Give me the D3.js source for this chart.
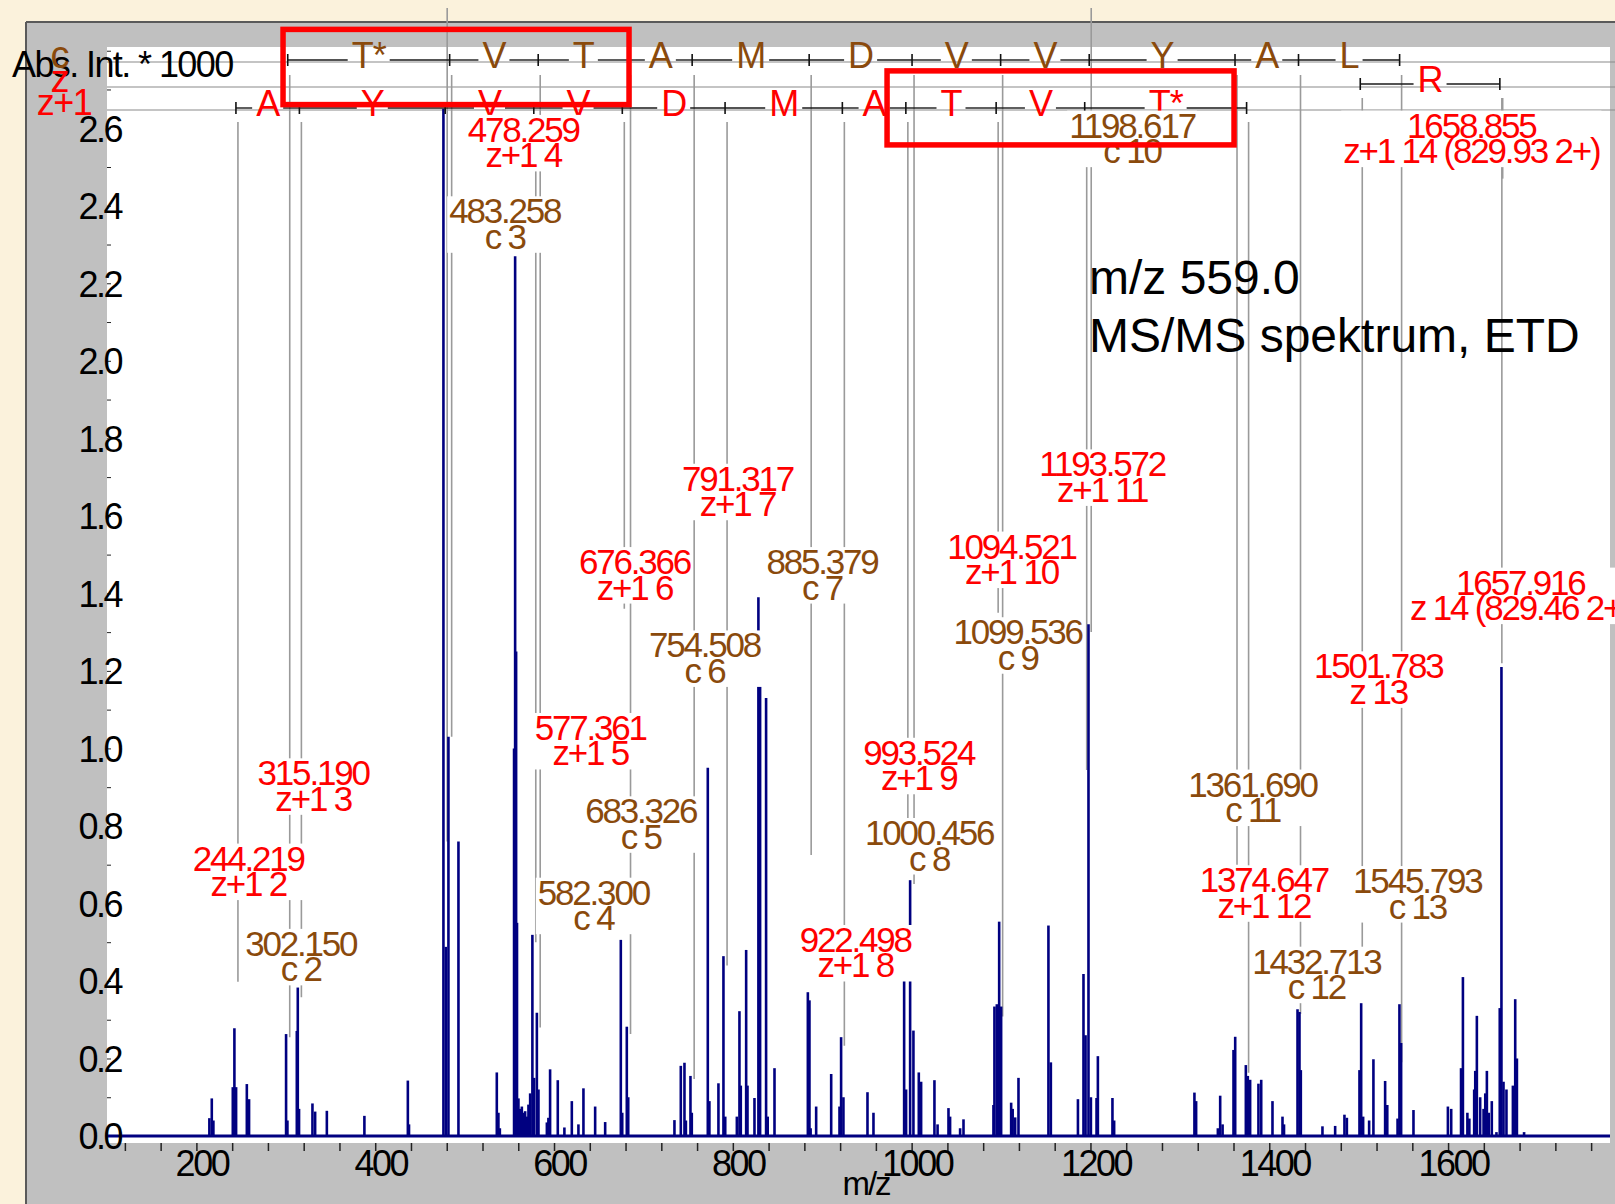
<!DOCTYPE html>
<html><head><meta charset="utf-8">
<script src="https://cdn.jsdelivr.net/npm/d3@7"></script>
<style>html,body{margin:0;padding:0;background:#fbf2dc;} svg{display:block;}</style>
</head><body><svg id="c" width="1615" height="1204"></svg>
<script>
// ---------- DATA ----------
const peakMz = [214.5,217.2,219.0,240.7,242.5,244.4,256.4,258.9,300.3,301.8,312.3,313.4,314.8,329.8,332.8,345.9,387.9,436.5,437.8,
476.3,479.0,481.9,493.1,536.0,537.8,539.4,555.3,556.5,557.6,558.6,560.2,562.1,564.0,565.8,567.7,569.5,571.4,573.3,575.8,577.7,580.8,582.6,
592.0,593.7,595.6,604.2,611.6,619.9,627.3,632.9,646.0,657.2,674.7,676.3,681.4,683.0,734.7,741.8,745.9,747.5,752.6,754.1,772.0,773.8,783.9,
789.5,791.5,804.5,807.4,808.9,814.9,816.4,824.2,828.6,830.5,837.2,839.0,846.6,883.9,885.7,887.0,893.2,910.0,919.3,921.1,923.7,950.6,957.3,
991.6,993.8,998.3,1002.0,1008.0,1010.6,1025.5,1029.0,1041.2,1043.0,1054.2,1058.0,1091.5,1092.6,1095.3,1097.9,1100.1,1111.3,1113.0,1115.8,
1119.5,1153.0,1155.7,1186.0,1192.2,1194.5,1197.8,1200.5,1206.8,1208.3,1224.6,1226.5,1316.3,1318.2,1342.5,1345.1,1347.8,1360.0,1361.9,
1373.8,1376.0,1378.6,1387.9,1391.0,1403.6,1414.8,1416.5,1431.6,1433.8,1435.3,1459.5,1473.7,1484.1,1486.8,1500.9,1502.8,1505.0,1511.7,
1516.5,1529.6,1532.0,1543.5,1545.6,1547.5,1561.3,1599.8,1603.5,1614.5,1616.6,1621.6,1623.8,1629.2,1630.4,1632.2,1635.9,1639.7,1641.6,
1643.4,1645.5,1648.9,1654.1,1657.8,1659.7,1662.0,1665.3,1672.5,1675.1,1677.0,1685.0];
const peakInt = [0.046,0.097,0.04,0.126,0.278,0.126,0.134,0.095,0.263,0.04,0.271,0.383,0.07,0.084,0.063,0.065,0.052,0.143,0.03,
2.65,0.488,1.03,0.76,0.164,0.06,0.02,1.0,2.27,1.25,0.55,0.097,0.07,0.076,0.06,0.064,0.05,0.081,0.11,0.519,0.15,0.318,0.12,
0.035,0.047,0.172,0.144,0.022,0.09,0.03,0.123,0.076,0.036,0.506,0.06,0.282,0.1,0.041,0.181,0.189,0.04,0.155,0.06,0.95,0.09,0.136,
0.464,0.05,0.05,0.322,0.13,0.48,0.13,0.098,1.39,1.22,1.13,0.05,0.175,0.371,0.35,0.02,0.076,0.16,0.076,0.255,0.1,0.113,0.06,
0.414,0.12,0.66,0.272,0.164,0.14,0.144,0.03,0.072,0.05,0.02,0.043,0.08,0.334,0.34,0.553,0.334,0.086,0.07,0.048,
0.15,0.543,0.19,0.095,0.418,0.26,1.32,0.1,0.098,0.206,0.098,0.04,0.112,0.09,0.02,0.104,0.03,0.222,0.256,
0.183,0.155,0.145,0.135,0.145,0.09,0.05,0.03,0.327,0.32,0.17,0.025,0.026,0.055,0.047,0.17,0.402,0.05,0.04,
0.198,0.142,0.08,0.045,0.34,0.24,0.067,0.076,0.07,0.175,0.41,0.06,0.045,0.12,0.168,0.31,0.1,0.07,0.11,
0.168,0.06,0.09,0.01,0.33,1.21,0.14,0.12,0.13,0.353,0.2,0.01];

// sequence ladders
const cIonMz = [302.150,483.258,582.300,683.326,754.508,885.379,1000.456,1099.536,1198.617,1361.690,1432.713,1545.793];
const cLetters = ["T*","V","T","A","M","D","V","V","Y","A","L"];
const zIonMz = [1501.783,1657.916];
const zLetters = ["R"];
const z1IonMz = [244.219,315.190,478.259,577.361,676.366,791.317,922.498,993.524,1094.521,1193.572,1374.647];
const z1Letters = ["A","Y","V","V","D","M","A","T","V","T*"];

// peak annotations
const annMz = [244.219,302.150,315.190,478.259,483.258,577.361,582.300,676.366,683.326,754.508,791.317,885.379,922.498,993.524,1000.456,1094.521,1099.536,1193.572,1198.617,1361.690,1374.647,1432.713,1501.783,1545.793,1657.916,1658.855];
const annName = ["z+1 2","c 2","z+1 3","z+1 4","c 3","z+1 5","c 4","z+1 6","c 5","c 6","z+1 7","c 7","z+1 8","z+1 9","c 8","z+1 10","c 9","z+1 11","c 10","c 11","z+1 12","c 12","z 13","c 13","z 14 (829.46 2+)","z+1 14 (829.93 2+)"];
const annRow = ["z1","c","z1","z1","c","z1","c","z1","c","c","z1","c","z1","z1","c","z1","c","z1","c","c","z1","c","z","c","z","z"];
const annLabelMz = [258.0,316.8,330.6,565.6,544.9,640.5,644.0,690.1,697.0,768.4,805.3,899.7,937.0,1008.0,1019.6,1111.7,1118.6,1213.1,1246.5,1381.3,1394.0,1452.7,1521.9,1565.6,1680.8,1626.0];
const annLabelInt = [0.717,0.497,0.937,2.597,2.387,1.054,0.629,1.482,0.839,1.267,1.697,1.482,0.507,0.990,0.783,1.522,1.301,1.734,2.608,0.908,0.661,0.451,1.213,0.659,1.429,2.608];
const annLineEnd = [0.398,0.255,0.358,0.76,1.03,0.50,0.28,1.36,0.263,0.147,0.44,0.725,0.233,0.81,0.65,1.35,0.308,0.944,1.30,0.70,0.163,0.315,0.41,0.19,1.22,2.47];
const annExtendTop = [0,0,0,1,0,0,0,0,0,0,0,0,0,0,0,0,0,0,1,0,0,0,0,0,0,0];

// highlight boxes (m/z, intensity corners)
const boxMz0 = [296.9, 972.5], boxMz1 = [683.9, 1360.6];
const boxInt0 = [2.855, 2.748], boxInt1 = [2.661, 2.557];

const xTickValues = d3.range(120, 1761, 40);
const xLabelValues = [200,400,600,800,1000,1200,1400,1600];
const yLabelValues = d3.range(0, 2.61, 0.2);
const yMinorValues = d3.range(0, 2.81, 0.1);

// ---------- LAYOUT ----------
const W = 1615, H = 1204;
const x = d3.scaleLinear().domain([100, 1780]).range([107, 1609]);
const y = d3.scaleLinear().domain([0, 2.81]).range([1136, 1136 - 2.81 * 387.6]);
const plotL = 107, plotR = 1610, plotT = 47, plotB = 1143;
const rowY = {c: 60, z: 84, z1: 108};
const rowGray = {c: 62, z: 87, z1: 110};
const lineStart = {c: 75, z: 98, z1: 122};
const BROWN = "#8a4a0c", RED = "#ff0000", NAVY = "#000080";
const FONT = "'Liberation Sans', Arial, Helvetica, sans-serif";

const svg = d3.select("#c").attr("font-family", FONT);

svg.append("rect").attr("width", W).attr("height", H).attr("fill", "#fbf2dc");
svg.append("rect").attr("x", 26).attr("y", 21).attr("width", W - 26).attr("height", H - 21).attr("fill", "#c0c0c0");
svg.append("line").attr("x1", 26).attr("x2", W).attr("y1", 22).attr("y2", 22).attr("stroke", "#5a5a5a").attr("stroke-width", 2);
svg.append("line").attr("x1", 26).attr("x2", 26).attr("y1", 22).attr("y2", H).attr("stroke", "#5a5a5a").attr("stroke-width", 2);
svg.append("rect").attr("x", plotL).attr("y", plotT).attr("width", plotR - plotL).attr("height", plotB - plotT).attr("fill", "#fff");

svg.append("defs").append("clipPath").attr("id", "clip")
  .append("rect").attr("x", plotL).attr("y", plotT).attr("width", plotR - plotL).attr("height", plotB - plotT);

// full-width gray row lines
["c", "z", "z1"].forEach(r => {
  svg.append("line").attr("x1", plotL).attr("x2", W).attr("y1", rowGray[r]).attr("y2", rowGray[r])
    .attr("stroke", "#8a8a8a").attr("stroke-width", 1.2);
});

// annotation vertical lines
const gLines = svg.append("g");
annMz.forEach((m, i) => {
  gLines.append("line")
    .attr("x1", x(m) + 2).attr("x2", x(m) + 2)
    .attr("y1", annExtendTop[i] ? 8 : lineStart[annRow[i]])
    .attr("y2", y(annLineEnd[i]))
    .attr("stroke", "#9a9a9a").attr("stroke-width", 1.6);
});

// y minor ticks
svg.append("g").attr("transform", `translate(${plotL},0)`)
  .call(d3.axisRight(y).tickValues(yMinorValues).tickSize(4).tickFormat(""))
  .call(g => g.select(".domain").remove())
  .call(g => g.selectAll("line").attr("stroke", "#222"));

// spectrum peaks
const gPk = svg.append("g").attr("clip-path", "url(#clip)");
gPk.selectAll("line.pk").data(peakMz).join("line").attr("class", "pk")
  .attr("x1", d => x(d)).attr("x2", d => x(d))
  .attr("y1", y(0)).attr("y2", (d, i) => y(peakInt[i]))
  .attr("stroke", NAVY).attr("stroke-width", 2.6);
gPk.append("line").attr("x1", plotL).attr("x2", plotR).attr("y1", y(0)).attr("y2", y(0))
  .attr("stroke", NAVY).attr("stroke-width", 3);

// ladders
function ladder(ions, letters, row, color) {
  const g = svg.append("g");
  const yy = rowY[row];
  letters.forEach((L, i) => {
    const x1 = x(ions[i]), x2 = x(ions[i + 1]), cx = (x1 + x2) / 2;
    const t = g.append("text").attr("x", cx).attr("y", yy + 8).attr("text-anchor", "middle")
      .attr("font-size", 36).attr("fill", color).style("letter-spacing", "-1px").text(L);
    const w = t.node().getComputedTextLength();
    [[x1, cx - w / 2 - 4], [cx + w / 2 + 4, x2]].forEach(s => {
      if (s[1] > s[0]) g.insert("line", "text").attr("x1", s[0]).attr("x2", s[1]).attr("y1", yy).attr("y2", yy)
        .attr("stroke", "#1a1a1a").attr("stroke-width", 1.4);
    });
  });
  ions.forEach(m => {
    g.append("line").attr("x1", x(m)).attr("x2", x(m)).attr("y1", yy - 6).attr("y2", yy + 6)
      .attr("stroke", "#111").attr("stroke-width", 1.6);
  });
}
ladder(cIonMz, cLetters, "c", BROWN);
ladder(zIonMz, zLetters, "z", RED);
ladder(z1IonMz, z1Letters, "z1", RED);

// peak labels with white background
const gLab = svg.append("g");
annMz.forEach((m, i) => {
  const color = annRow[i] === "c" ? BROWN : RED;
  const cx = x(annLabelMz[i]), b1 = y(annLabelInt[i]) + 12.5, b2 = b1 + 25.5;
  const g = gLab.append("g");
  const bg = g.append("rect").attr("fill", "#fff");
  const t1 = g.append("text").attr("x", cx).attr("y", b1).attr("text-anchor", "middle").attr("font-size", 35)
    .attr("fill", color).style("letter-spacing", "-2.2px").text(m.toFixed(3));
  const t2 = g.append("text").attr("x", cx).attr("y", b2).attr("text-anchor", "middle").attr("font-size", 35)
    .attr("fill", color).style("letter-spacing", "-2.2px").text(annName[i]);
  const w = Math.max(t1.node().getComputedTextLength(), t2.node().getComputedTextLength());
  bg.attr("x", cx - w / 2 - 2).attr("y", b1 - 27).attr("width", w + 4).attr("height", b2 - b1 + 31);
});

// y axis labels
svg.append("g").attr("transform", "translate(121,0)")
  .call(d3.axisLeft(y).tickValues(yLabelValues).tickSize(0).tickPadding(0).tickFormat(d3.format(".1f")))
  .call(g => g.select(".domain").remove())
  .call(g => g.selectAll("text").attr("font-size", 36).attr("font-family", FONT).attr("fill", "#000")
    .attr("dy", "0.36em").style("letter-spacing", "-2.5px"));

// x axis
svg.append("g").attr("transform", `translate(0,${plotB})`)
  .call(d3.axisBottom(x).tickValues(xTickValues).tickSize(8).tickFormat(""))
  .call(g => g.select(".domain").remove())
  .call(g => g.selectAll("line").attr("stroke", "#222").attr("stroke-width", 1.5));
svg.append("g").attr("transform", `translate(0,${plotB})`)
  .call(d3.axisBottom(x).tickValues(xLabelValues).tickSize(0).tickPadding(0).tickFormat(d3.format("d")))
  .call(g => g.select(".domain").remove())
  .call(g => g.selectAll("text").attr("font-size", 36).attr("font-family", FONT).attr("fill", "#000")
    .attr("dx", 5).attr("y", 33).attr("dy", 0).style("letter-spacing", "-2.5px"));

svg.append("text").attr("x", 866).attr("y", 1195).attr("text-anchor", "middle").attr("font-size", 33)
  .style("letter-spacing", "-2px").text("m/z");

// titles
svg.append("text").attr("x", 12).attr("y", 77).attr("font-size", 36).style("letter-spacing", "-1.6px").text("Abs. Int. * 1000");
svg.append("text").attr("x", 60).attr("y", 68).attr("text-anchor", "middle").attr("font-size", 38).attr("fill", BROWN).text("c");
svg.append("text").attr("x", 60).attr("y", 92).attr("text-anchor", "middle").attr("font-size", 38).attr("fill", RED).text("z");
svg.append("text").attr("x", 64).attr("y", 115).attr("text-anchor", "middle").attr("font-size", 36).attr("fill", RED)
  .style("letter-spacing", "-1.5px").text("z+1");

svg.append("text").attr("x", 1089).attr("y", 294).attr("font-size", 48).text("m/z 559.0");
svg.append("text").attr("x", 1089).attr("y", 352).attr("font-size", 48).text("MS/MS spektrum, ETD");

// red highlight boxes
boxMz0.forEach((m0, i) => {
  svg.append("rect").attr("x", x(m0)).attr("y", y(boxInt0[i]))
    .attr("width", x(boxMz1[i]) - x(m0)).attr("height", y(boxInt1[i]) - y(boxInt0[i]))
    .attr("fill", "none").attr("stroke", "#ff0000").attr("stroke-width", 5.5);
});
</script></body></html>
